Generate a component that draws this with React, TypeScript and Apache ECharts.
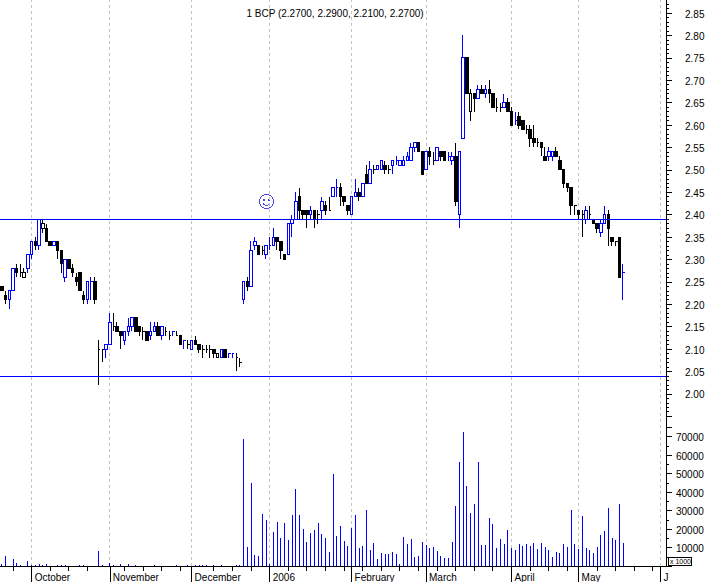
import React, { useEffect, useRef } from "react";
import * as echarts from "echarts";

const TITLE = "1 BCP (2.2700, 2.2900, 2.2100, 2.2700)";
const SLOT_COUNT = 179;
const monthIndex = [8, 29, 51, 72, 94, 114, 137, 155, 177];
const monthNames = ["October", "November", "December", "2006", "February", "March", "April", "May", "J"];
const weekIndex = [3, 13, 18, 23, 33, 38, 43, 48, 57, 62, 67, 77, 82, 87, 92, 97, 102, 107, 112, 117, 122, 127, 132, 142, 147, 152, 160, 165, 170, 175];
const levels = [2.392, 2.044];

const open = [
  2.24, 2.22, 2.21, 2.23, 2.28, 2.27, 2.26, 2.28, 2.31, 2.34,
  2.33, 2.37, 2.37, 2.34, 2.33, 2.34, 2.32, 2.26, 2.30, 2.28,
  2.26, 2.27, 2.22, 2.21, 2.25, 2.25, 2.10, 2.10, 2.10, 2.11,
  2.15, 2.15, 2.14, 2.12, 2.14, 2.15, 2.17, 2.15, 2.14, 2.14,
  2.13, 2.14, 2.15, 2.13, 2.14, 2.13, 2.14, 2.13, 2.13, 2.12,
  2.11, 2.10, 2.12, 2.11, 2.10, 2.10, 2.10, 2.10, 2.08, 2.08,
  2.10, 2.09, 2.09, 2.08, 2.07, 2.21, 2.25, 2.24, 2.33, 2.33,
  2.32, 2.31, 2.33, 2.33, 2.35, 2.34, 2.31, 2.31, 2.38, 2.39,
  2.44, 2.41, 2.41, 2.40, 2.41, 2.40, 2.41, 2.42, 2.41, 2.44,
  2.46, 2.46, 2.44, 2.42, 2.40, 2.44, 2.45, 2.44, 2.49, 2.47,
  2.50, 2.50, 2.50, 2.51, 2.50, 2.51, 2.52, 2.51, 2.51, 2.52,
  2.52, 2.55, 2.56, 2.54, 2.50, 2.54, 2.52, 2.52, 2.54, 2.54,
  2.53, 2.52, 2.53, 2.40, 2.57, 2.75, 2.63, 2.67, 2.66, 2.68,
  2.67, 2.68, 2.67, 2.64, 2.64, 2.64, 2.65, 2.63, 2.61, 2.62,
  2.61, 2.59, 2.59, 2.57, 2.56, 2.56, 2.53, 2.53, 2.53, 2.54,
  2.52, 2.50, 2.47, 2.46, 2.42, 2.41, 2.40, 2.39, 2.40, 2.39,
  2.38, 2.36, 2.38, 2.40, 2.35, 2.34, 2.35, 2.27,
];
const close = [
  2.23, 2.21, 2.23, 2.28, 2.27, 2.27, 2.27, 2.31, 2.34, 2.33,
  2.39, 2.38, 2.34, 2.33, 2.34, 2.32, 2.29, 2.30, 2.28, 2.27,
  2.25, 2.23, 2.21, 2.25, 2.25, 2.21, 2.10, 2.10, 2.11, 2.16,
  2.15, 2.14, 2.13, 2.14, 2.15, 2.17, 2.14, 2.14, 2.14, 2.12,
  2.14, 2.15, 2.13, 2.15, 2.14, 2.13, 2.14, 2.13, 2.11, 2.12,
  2.11, 2.12, 2.11, 2.10, 2.10, 2.10, 2.10, 2.09, 2.09, 2.10,
  2.08, 2.09, 2.09, 2.08, 2.07, 2.25, 2.24, 2.32, 2.34, 2.31,
  2.32, 2.33, 2.33, 2.35, 2.34, 2.32, 2.30, 2.38, 2.39, 2.43,
  2.41, 2.40, 2.40, 2.41, 2.39, 2.40, 2.43, 2.41, 2.41, 2.46,
  2.46, 2.44, 2.43, 2.41, 2.44, 2.45, 2.44, 2.47, 2.47, 2.50,
  2.50, 2.51, 2.52, 2.50, 2.50, 2.52, 2.52, 2.52, 2.52, 2.53,
  2.55, 2.56, 2.54, 2.49, 2.54, 2.53, 2.52, 2.55, 2.53, 2.52,
  2.53, 2.53, 2.43, 2.54, 2.75, 2.67, 2.67, 2.66, 2.68, 2.67,
  2.68, 2.67, 2.64, 2.64, 2.64, 2.65, 2.63, 2.60, 2.61, 2.60,
  2.59, 2.59, 2.57, 2.56, 2.56, 2.55, 2.52, 2.54, 2.54, 2.53,
  2.50, 2.47, 2.46, 2.42, 2.42, 2.40, 2.40, 2.41, 2.40, 2.38,
  2.37, 2.38, 2.40, 2.37, 2.34, 2.34, 2.26, 2.27,
];
const low = [
  2.23, 2.20, 2.19, 2.23, 2.26, 2.26, 2.26, 2.27, 2.30, 2.32,
  2.32, 2.36, 2.34, 2.33, 2.33, 2.30, 2.27, 2.25, 2.28, 2.26,
  2.24, 2.23, 2.20, 2.20, 2.21, 2.20, 2.02, 2.07, 2.08, 2.11,
  2.14, 2.14, 2.10, 2.11, 2.13, 2.14, 2.14, 2.13, 2.12, 2.12,
  2.12, 2.14, 2.13, 2.12, 2.13, 2.12, 2.13, 2.13, 2.11, 2.10,
  2.10, 2.10, 2.11, 2.09, 2.08, 2.09, 2.08, 2.08, 2.08, 2.08,
  2.08, 2.08, 2.08, 2.05, 2.06, 2.20, 2.23, 2.24, 2.32, 2.31,
  2.31, 2.30, 2.32, 2.33, 2.32, 2.30, 2.30, 2.31, 2.35, 2.39,
  2.39, 2.39, 2.37, 2.39, 2.37, 2.38, 2.39, 2.40, 2.41, 2.44,
  2.44, 2.42, 2.42, 2.40, 2.40, 2.44, 2.43, 2.44, 2.47, 2.47,
  2.49, 2.50, 2.50, 2.49, 2.49, 2.49, 2.51, 2.51, 2.51, 2.52,
  2.52, 2.54, 2.54, 2.49, 2.50, 2.51, 2.51, 2.52, 2.52, 2.52,
  2.52, 2.51, 2.42, 2.37, 2.57, 2.67, 2.61, 2.63, 2.66, 2.67,
  2.66, 2.65, 2.64, 2.63, 2.63, 2.64, 2.63, 2.60, 2.60, 2.59,
  2.59, 2.58, 2.55, 2.55, 2.55, 2.53, 2.52, 2.52, 2.52, 2.53,
  2.50, 2.46, 2.45, 2.40, 2.40, 2.39, 2.35, 2.38, 2.39, 2.38,
  2.36, 2.35, 2.38, 2.33, 2.33, 2.33, 2.26, 2.21,
];
const high = [
  2.24, 2.23, 2.23, 2.28, 2.29, 2.29, 2.28, 2.31, 2.34, 2.35,
  2.39, 2.39, 2.38, 2.34, 2.34, 2.34, 2.32, 2.30, 2.30, 2.29,
  2.27, 2.27, 2.23, 2.25, 2.26, 2.26, 2.12, 2.10, 2.11, 2.18,
  2.18, 2.16, 2.14, 2.14, 2.17, 2.17, 2.17, 2.15, 2.15, 2.14,
  2.16, 2.16, 2.16, 2.15, 2.15, 2.14, 2.14, 2.14, 2.13, 2.12,
  2.12, 2.12, 2.13, 2.11, 2.11, 2.11, 2.11, 2.10, 2.09, 2.10,
  2.10, 2.09, 2.09, 2.09, 2.08, 2.25, 2.26, 2.34, 2.35, 2.33,
  2.33, 2.33, 2.35, 2.37, 2.35, 2.34, 2.31, 2.38, 2.40, 2.45,
  2.46, 2.41, 2.41, 2.42, 2.41, 2.41, 2.44, 2.43, 2.44, 2.46,
  2.48, 2.47, 2.44, 2.42, 2.44, 2.48, 2.46, 2.47, 2.51, 2.52,
  2.51, 2.51, 2.52, 2.52, 2.51, 2.52, 2.53, 2.52, 2.53, 2.54,
  2.56, 2.56, 2.56, 2.54, 2.54, 2.55, 2.54, 2.55, 2.54, 2.54,
  2.54, 2.54, 2.56, 2.54, 2.80, 2.75, 2.68, 2.67, 2.69, 2.69,
  2.69, 2.70, 2.67, 2.66, 2.65, 2.67, 2.66, 2.64, 2.63, 2.63,
  2.61, 2.60, 2.60, 2.60, 2.57, 2.56, 2.55, 2.55, 2.54, 2.55,
  2.53, 2.50, 2.47, 2.46, 2.42, 2.41, 2.41, 2.42, 2.42, 2.39,
  2.38, 2.39, 2.42, 2.41, 2.35, 2.34, 2.35, 2.29,
];
const volume = [
  1000, 5400, 0, 3800, 1600, 500, 200, 2700, 300, 500,
  1000, 500, 1000, 0, 0, 500, 500, 500, 200, 200,
  0, 500, 500, 0, 0, 0, 8100, 500, 100, 1600,
  500, 100, 1000, 100, 1000, 100, 500, 0, 0, 0,
  0, 500, 0, 0, 0, 0, 0, 500, 0, 0,
  500, 0, 500, 500, 500, 500, 0, 500, 0, 500,
  0, 0, 0, 500, 500, 68600, 10300, 44900, 5900, 5400,
  28100, 24900, 1000, 18400, 23800, 15100, 23200, 14000, 27600, 41600,
  27600, 20000, 13000, 17800, 19500, 23200, 17300, 15100, 7600, 49700,
  16200, 21600, 13500, 10800, 20700, 27600, 9700, 10800, 30300, 8600,
  12400, 3800, 7000, 6500, 6500, 7600, 6500, 1100, 15700, 11900,
  14600, 4900, 5400, 13000, 11400, 9700, 10300, 8100, 5400, 4300,
  4300, 13000, 32400, 56200, 72400, 43200, 28600, 33500, 56200, 11400,
  11400, 25900, 22700, 9700, 14600, 11900, 19500, 9700, 8600, 11900,
  10800, 11900, 10800, 12400, 9200, 12400, 10300, 8600, 4900, 7600,
  7000, 11900, 10300, 30300, 11900, 9200, 27000, 9700, 8600, 7000,
  10300, 16800, 18900, 31400, 15100, 14000, 33500, 12400,
];
const hollowBlack = [6, 11, 58, 126];
const blueDoji = [24, 46, 49, 61, 62, 72, 90, 106, 120, 138, 167];

const BLUE = "#0000ff";
const BLACK = "#000000";
const GRID = "#c4c4c4";
const FONT = "'Liberation Sans', Arial, sans-serif";
const days = Array.from({ length: SLOT_COUNT }, (_, i) => String(i));

export default function App() {
  const ref = useRef<HTMLDivElement>(null);
  useEffect(() => {
    document.body.style.margin = "0";
    const chart = echarts.init(ref.current!, null, { renderer: "svg" });
    const candles = open.map((o, i) => {
      const c = close[i];
      let fill = BLACK;
      let stroke = BLACK;
      if (hollowBlack.includes(i)) {
        fill = "#ffffff";
      } else if (c > o || blueDoji.includes(i)) {
        fill = "#ffffff";
        stroke = BLUE;
      }
      return {
        value: [o, c, low[i], high[i]],
        itemStyle: {
          color: fill,
          color0: fill,
          borderColor: stroke,
          borderColor0: stroke,
          borderColorDoji: stroke,
          borderWidth: 1,
        },
      };
    });
    chart.setOption({
      animation: false,
      backgroundColor: "#ffffff",
      title: {
        text: TITLE,
        left: 330,
        top: 3,
        textAlign: "center",
        textStyle: { fontFamily: FONT, fontSize: 10, fontWeight: "normal", color: BLACK },
      },
      grid: [
        { left: 0, width: 666, top: -9.4, height: 425.6, outerBoundsMode: "none" },
        { left: 0, width: 666, top: 427.25, height: 138.75, outerBoundsMode: "none" },
      ],
      xAxis: [
        { type: "category", gridIndex: 0, data: days, show: false },
        {
          type: "category",
          gridIndex: 1,
          data: days,
          position: "bottom",
          axisLine: { show: true, onZero: false, lineStyle: { color: BLACK, width: 1 } },
          axisTick: {
            show: true,
            alignWithLabel: true,
            length: 16,
            interval: (i: number) => monthIndex.includes(i),
            lineStyle: { color: BLACK },
          },
          axisLabel: {
            show: true,
            interval: (i: number) => monthIndex.includes(i),
            formatter: (v: string) => monthNames[monthIndex.indexOf(Number(v))] ?? "",
            align: "left",
            padding: [0, 0, 0, 3],
            margin: 6,
            color: BLACK,
            fontFamily: FONT,
            fontSize: 10,
          },
          splitLine: { show: false },
        },
      ],
      yAxis: [
        {
          type: "value",
          gridIndex: 0,
          position: "right",
          min: 1.95,
          max: 2.9,
          interval: 0.05,
          scale: true,
          splitLine: { show: false },
          axisLine: { show: true, lineStyle: { color: BLACK, width: 1 } },
          axisTick: { show: true, length: 6, lineStyle: { color: BLACK } },
          minorTick: { show: true, splitNumber: 5, length: 3, lineStyle: { color: BLACK } },
          axisLabel: {
            margin: 19,
            color: BLACK,
            fontFamily: FONT,
            fontSize: 10,
            rich: { a: { padding: [2, 0, 0, 0], fontFamily: FONT, fontSize: 10, color: BLACK } },
            formatter: (v: number) => (v < 1.99 || v > 2.86 ? "" : `{a|${v.toFixed(2)}}`),
          },
        },
        {
          type: "value",
          gridIndex: 1,
          position: "right",
          min: 0,
          max: 75000,
          interval: 10000,
          splitLine: { show: false },
          axisLine: { show: true, lineStyle: { color: BLACK, width: 1 } },
          axisTick: { show: true, length: 6, lineStyle: { color: BLACK } },
          minorTick: { show: true, splitNumber: 2, length: 3, lineStyle: { color: BLACK } },
          axisLabel: {
            margin: 10,
            color: BLACK,
            fontFamily: FONT,
            fontSize: 10,
            rich: { a: { padding: [2, 0, 0, 0], fontFamily: FONT, fontSize: 10, color: BLACK } },
            formatter: (v: number) => (v < 10000 || v > 70000 ? "" : `{a|${v}}`),
          },
        },
      ],
      series: [
        {
          type: "custom",
          name: "Month lines",
          xAxisIndex: 1,
          yAxisIndex: 1,
          silent: true,
          clip: false,
          z: 0,
          data: monthIndex.map((m) => [m, 0]),
          encode: { x: 0, y: 1 },
          renderItem: (_: any, api: any) => {
            const [x, y0] = api.coord([api.value(0), 0]);
            const y1 = api.coord([api.value(0), 320000])[1];
            return {
              type: "line",
              shape: { x1: Math.floor(x) + 0.5, y1: y0, x2: Math.floor(x) + 0.5, y2: y1 },
              style: { stroke: GRID, lineWidth: 1, lineDash: [3, 3] },
            };
          },
        },
        {
          type: "line",
          name: "Levels",
          xAxisIndex: 0,
          yAxisIndex: 0,
          data: [],
          markLine: {
            silent: true,
            symbol: "none",
            animation: false,
            label: { show: false },
            lineStyle: { color: BLUE, type: "solid", width: 1 },
            data: levels.map((v) => ({ yAxis: v })),
          },
        },
        {
          type: "candlestick",
          name: "BCP",
          xAxisIndex: 0,
          yAxisIndex: 0,
          barWidth: 3,
          data: candles,
        },
        {
          type: "bar",
          name: "Volume",
          xAxisIndex: 1,
          yAxisIndex: 1,
          barWidth: 1,
          itemStyle: { color: BLUE },
          data: volume,
        },
        {
          type: "custom",
          name: "Weeks",
          xAxisIndex: 1,
          yAxisIndex: 1,
          silent: true,
          clip: false,
          data: weekIndex.map((w) => [w, 0]),
          encode: { x: 0, y: 1 },
          renderItem: (_: any, api: any) => {
            const [x, y] = api.coord([api.value(0), 0]);
            return {
              type: "line",
              shape: { x1: Math.floor(x) + 0.5, y1: y, x2: Math.floor(x) + 0.5, y2: y + 5 },
              style: { stroke: BLACK, lineWidth: 1 },
            };
          },
        },
      ],
      graphic: [
        { type: "line", silent: true, shape: { x1: 666.5, y1: 415, x2: 666.5, y2: 428 }, style: { stroke: BLACK, lineWidth: 1 } },
        {
          type: "group",
          silent: true,
          x: 266.5,
          y: 201.5,
          children: [
            { type: "circle", shape: { cx: 0, cy: 0, r: 7 }, style: { fill: "none", stroke: "#4848e8", lineWidth: 1 } },
            { type: "circle", shape: { cx: -2.5, cy: -1.5, r: 0.8 }, style: { fill: "#4848e8" } },
            { type: "circle", shape: { cx: 2.5, cy: -1.5, r: 0.8 }, style: { fill: "#4848e8" } },
            { type: "arc", shape: { cx: 0, cy: 0, r: 4, startAngle: 0.4, endAngle: Math.PI - 0.4 }, style: { fill: "none", stroke: "#4848e8", lineWidth: 1 } },
          ],
        },
        { type: "rect", silent: true, shape: { x: 668.5, y: 557.5, width: 23, height: 8 }, style: { fill: "#ffffff", stroke: BLACK, lineWidth: 1 } },
        { type: "text", silent: true, x: 670, y: 558, style: { text: "x 1000", fontFamily: FONT, fontSize: 7, fill: BLACK } },
      ],
    });
    return () => chart.dispose();
  }, []);
  return (
    <>
      <style>{"#bcp-chart svg path{shape-rendering:crispEdges}"}</style>
      <div id="bcp-chart" ref={ref} style={{ width: 707, height: 582 }} />
    </>
  );
}
